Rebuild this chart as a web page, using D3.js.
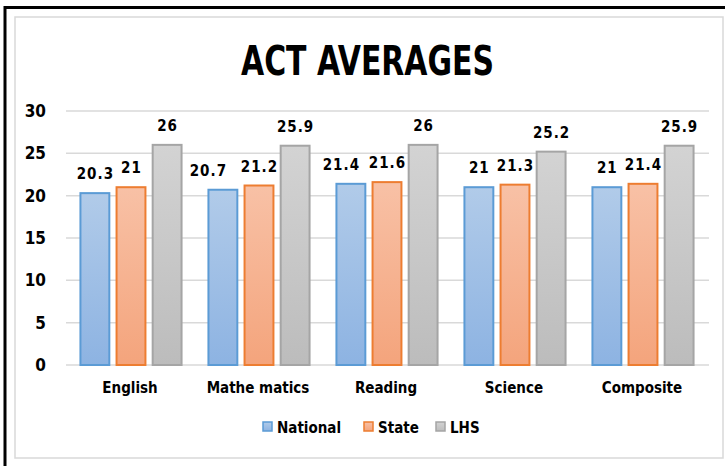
<!DOCTYPE html>
<html>
<head>
<meta charset="utf-8">
<script src="https://cdn.jsdelivr.net/npm/d3@7"></script>
<style>
  body { margin: 0; background: #fff; }
  text { font-family: "DejaVu Sans", sans-serif; font-stretch: condensed; font-weight: bold; fill: #000; }
</style>
</head>
<body>
<svg id="chart" width="725" height="466"></svg>
<script>
// chart values
var categories = ["English", "Mathe matics", "Reading", "Science", "Composite"];
var seriesNames = ["National", "State", "LHS"];
var national = [20.3, 20.7, 21.4, 21, 21];
var state = [21, 21.2, 21.6, 21.3, 21.4];
var lhs = [26, 25.9, 26, 25.2, 25.9];
var yTicks = [0, 5, 10, 15, 20, 25, 30];

var seriesValues = [national, state, lhs];
var colors = {
  National: { stroke: "#5b9bd5", top: "#b1cbe9", bottom: "#8db3e2" },
  State:    { stroke: "#ed7d31", top: "#f8c1a6", bottom: "#f4a47c" },
  LHS:      { stroke: "#a5a5a5", top: "#d3d3d3", bottom: "#bcbcbc" }
};
// labels that were dragged sideways in the original
var labelNudge = { "National|Mathe matics": -15, "National|Reading": -10 };

var svg = d3.select("#chart");

// outer frame
svg.append("line").attr("x1", 5).attr("y1", 7.5).attr("x2", 725).attr("y2", 7.5)
  .attr("stroke", "#000").attr("stroke-width", 3);
svg.append("line").attr("x1", 5).attr("y1", 6).attr("x2", 5).attr("y2", 466)
  .attr("stroke", "#000").attr("stroke-width", 3);
svg.append("rect").attr("x", 15).attr("y", 17).attr("width", 708).attr("height", 441)
  .attr("fill", "#fff").attr("stroke", "#d9d9d9").attr("stroke-width", 1.5);

// gradients
var defs = svg.append("defs");
seriesNames.forEach(function(s) {
  var g = defs.append("linearGradient").attr("id", "grad" + s)
    .attr("x1", 0).attr("y1", 0).attr("x2", 0).attr("y2", 1);
  g.append("stop").attr("offset", "0%").attr("stop-color", colors[s].top);
  g.append("stop").attr("offset", "100%").attr("stop-color", colors[s].bottom);
});

svg.append("text").attr("x", 241).attr("y", 75)
  .attr("textLength", 253).attr("lengthAdjust", "spacingAndGlyphs")
  .style("font-size", "40px").text("ACT AVERAGES");

var plotLeft = 66, plotRight = 706, plotTop = 111, plotBottom = 365;

var y = d3.scaleLinear().domain([0, 30]).range([plotBottom, plotTop]);
var x0 = d3.scaleBand().domain(categories).range([plotLeft, plotRight])
  .paddingInner(0.21).paddingOuter(0.105);
var x1 = d3.scaleBand().domain(seriesNames).range([0, x0.bandwidth()]).paddingInner(0.2);

// grid
svg.append("g").selectAll("line").data(yTicks).enter().append("line")
  .attr("x1", plotLeft).attr("x2", plotRight + 3)
  .attr("y1", function(d) { return y(d); }).attr("y2", function(d) { return y(d); })
  .attr("stroke", "#d9d9d9").attr("stroke-width", 1.5);

// y labels
svg.append("g").selectAll("text").data(yTicks).enter().append("text")
  .attr("x", 46).attr("y", function(d) { return y(d); }).attr("dy", "0.36em")
  .attr("text-anchor", "end").style("font-size", "17px")
  .text(function(d) { return d; });

var rows = [];
categories.forEach(function(c, i) {
  seriesNames.forEach(function(s, j) {
    rows.push({ cat: c, series: s, value: seriesValues[j][i] });
  });
});

svg.append("g").selectAll("rect").data(rows).enter().append("rect")
  .attr("x", function(d) { return x0(d.cat) + x1(d.series) + 1; })
  .attr("y", function(d) { return y(d.value); })
  .attr("width", x1.bandwidth())
  .attr("height", function(d) { return plotBottom - y(d.value); })
  .attr("fill", function(d) { return "url(#grad" + d.series + ")"; })
  .attr("stroke", function(d) { return colors[d.series].stroke; })
  .attr("stroke-width", 2);

svg.append("g").selectAll("text").data(rows).enter().append("text")
  .attr("x", function(d) {
    var nudge = labelNudge[d.series + "|" + d.cat] || 0;
    return x0(d.cat) + x1(d.series) + 1.5 + x1.bandwidth() / 2 + nudge;
  })
  .attr("y", function(d) { return y(d.value) - 14; })
  .attr("text-anchor", "middle").style("font-size", "15px")
  .style("letter-spacing", "1px")
  .text(function(d) { return d.value; });

// category labels
svg.append("g").selectAll("text").data(categories).enter().append("text")
  .attr("x", function(d) { return x0(d) + x0.bandwidth() / 2; })
  .attr("y", 393).attr("text-anchor", "middle").style("font-size", "15px")
  .text(function(d) { return d; });

// legend
var legendX = [263, 364, 436];
var lg = svg.append("g").selectAll("g").data(seriesNames).enter().append("g")
  .attr("transform", function(d, i) { return "translate(" + legendX[i] + ",422)"; });
lg.append("rect").attr("width", 9).attr("height", 9)
  .attr("fill", function(d) { return "url(#grad" + d + ")"; })
  .attr("stroke", function(d) { return colors[d].stroke; }).attr("stroke-width", 1.5);
lg.append("text").attr("x", 14).attr("y", 10.5).style("font-size", "15px")
  .text(function(d) { return d; });
</script>
</body>
</html>
